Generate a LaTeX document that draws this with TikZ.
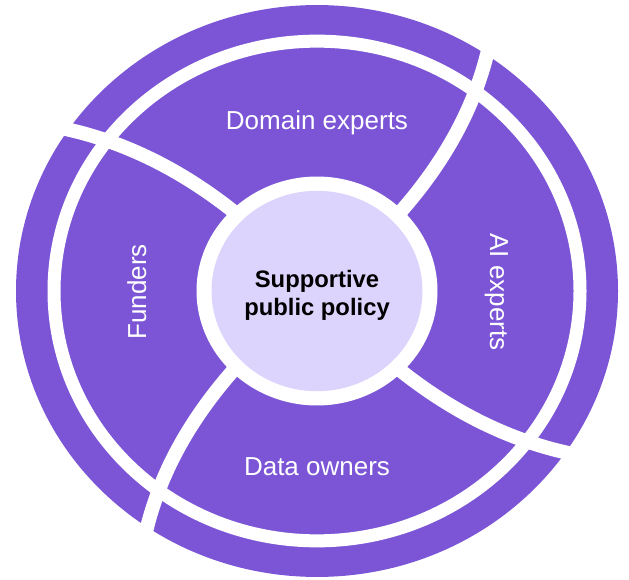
\documentclass[tikz,border=0pt]{standalone}
\usepackage{fontspec}
\setmainfont{Liberation Sans}
\definecolor{ringpurple}{RGB}{123,85,214}
\definecolor{corelav}{RGB}{221,212,253}
\begin{document}
\begin{tikzpicture}[x=1pt,y=1pt,
  segtext/.style={text=white, font=\fontsize{26}{30}\selectfont, inner sep=0pt},
  coretext/.style={text=black, font=\bfseries\fontsize{23.8}{28}\selectfont, inner sep=0pt},
  whitegap/.style={draw=white, line width=13pt},
  whitecut/.style={draw=white, line width=14pt}]
\useasboundingbox (0,0) rectangle (629,-580);
\begin{scope}[shift={(317,-291)}, yscale=0.95]
  \fill[ringpurple] (0,0) circle (301);
  \draw[whitegap] (0,0) circle (263);
  \foreach \t in {45,135,225,315}
    \draw[whitecut] plot[domain=100:320, samples=40, variable=\r, smooth]
      ({\t+0.045*(\r-120)+0.00007*(\r-120)*(\r-120)}:\r);
  \fill[white] (0,0) circle (120.5);
  \fill[corelav] (0,0) circle (105.5);
\end{scope}
\node[segtext, anchor=base] (domain) at (317,-130) {Domain experts};
\node[segtext, anchor=base] (data) at (317,-475) {Data owners};
\node[segtext, anchor=base, rotate=90] (funders) at (146,-292) {Funders};
\node[segtext, anchor=base, rotate=-90] (ai) at (490,-292) {AI experts};
\node[coretext, anchor=base] (core1) at (317,-287.3) {Supportive};
\node[coretext, anchor=base] (core2) at (317,-315.7) {public policy};
\end{tikzpicture}
\end{document}
